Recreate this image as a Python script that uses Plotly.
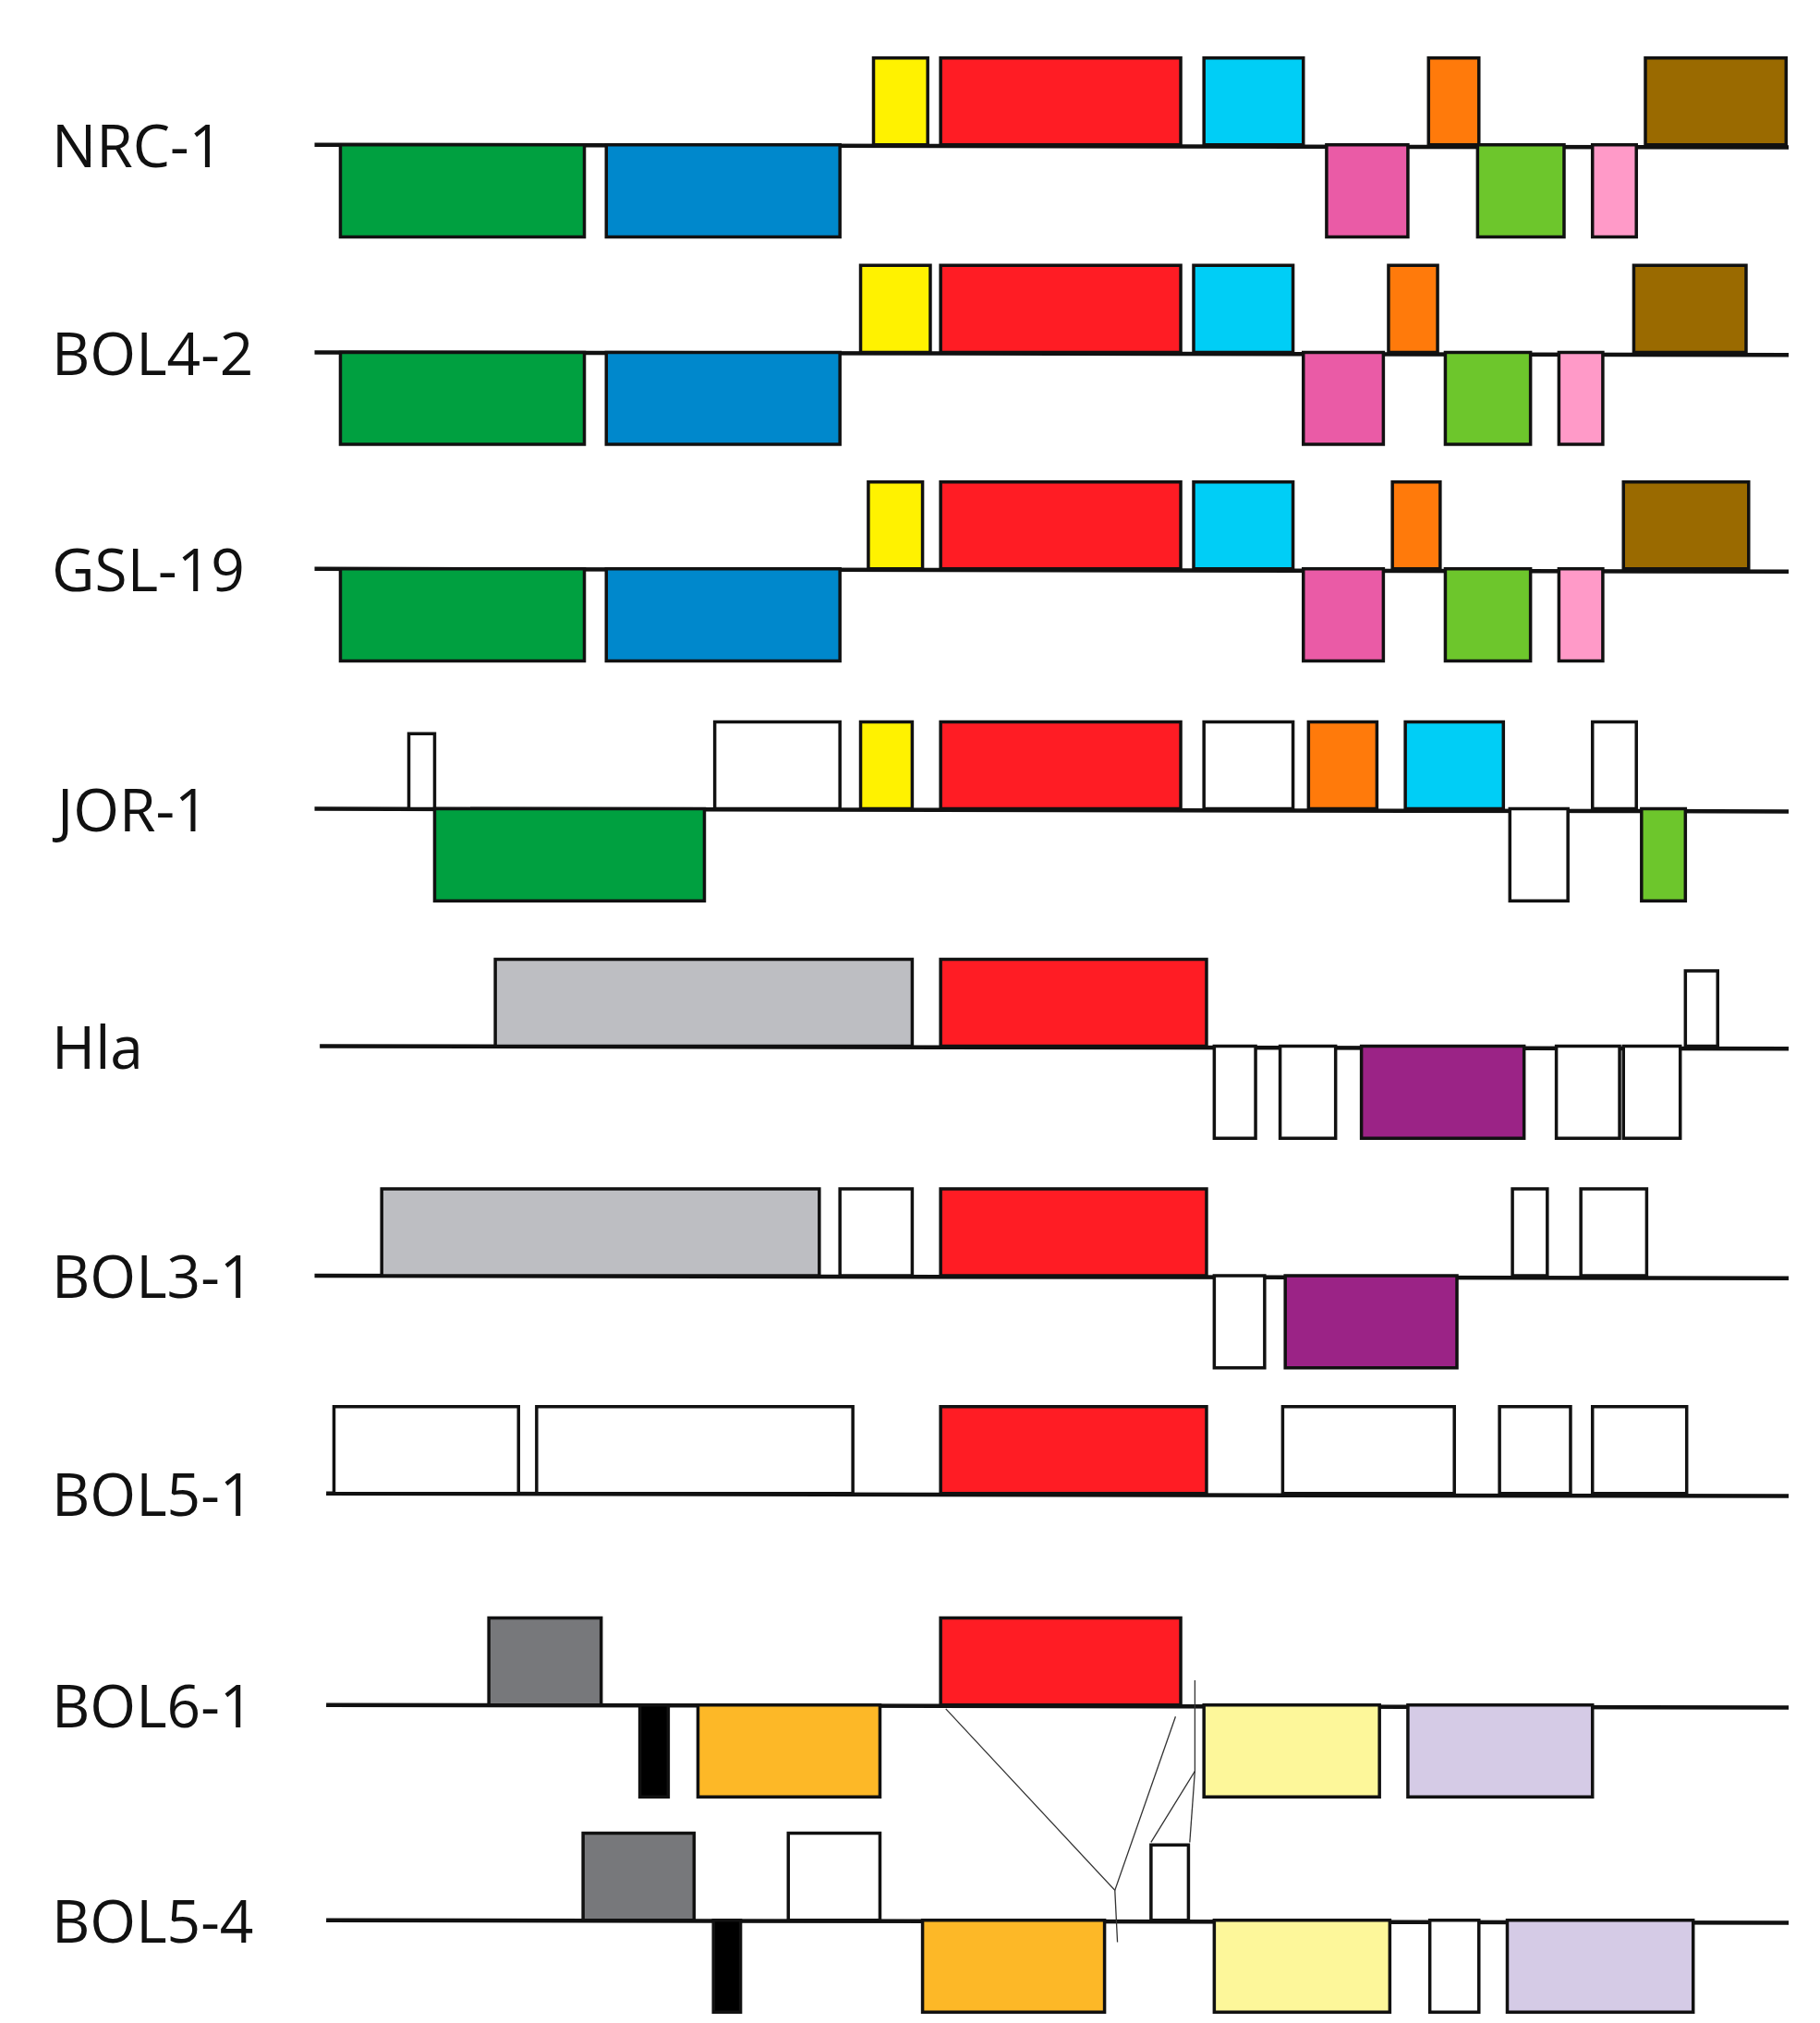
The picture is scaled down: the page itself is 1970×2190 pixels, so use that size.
import plotly.graph_objects as go

# track names and baseline positions (image units, y grows downward)
tracks = ["NRC-1", "BOL4-2", "GSL-19", "JOR-1", "Hla", "BOL3-1", "BOL5-1", "BOL6-1", "BOL5-4"]
baselines = [106, 266, 433, 618, 801, 978, 1146, 1309, 1475]

# genes per track: (start, end, strand, colour)
nrc1 = [(671, 713, 1, "#fff200"), (723, 909, 1, "#ff1c24"), (927, 1004, 1, "#00cef6"),
        (1101, 1140, 1, "#ff7a0b"), (1269, 1378, 1, "#9a6a00"),
        (258, 447, -1, "#00a040"), (464, 645, -1, "#0088cc"), (1022, 1085, -1, "#ea5ba6"),
        (1139, 1206, -1, "#6dc62c"), (1228, 1262, -1, "#ff9ac8")]
bol42 = [(661, 715, 1, "#fff200"), (723, 909, 1, "#ff1c24"), (919, 996, 1, "#00cef6"),
         (1070, 1108, 1, "#ff7a0b"), (1260, 1347, 1, "#9a6a00"),
         (258, 447, -1, "#00a040"), (464, 645, -1, "#0088cc"), (1004, 1066, -1, "#ea5ba6"),
         (1114, 1180, -1, "#6dc62c"), (1202, 1236, -1, "#ff9ac8")]
gsl19 = [(667, 709, 1, "#fff200"), (723, 909, 1, "#ff1c24"), (919, 996, 1, "#00cef6"),
         (1073, 1110, 1, "#ff7a0b"), (1252, 1349, 1, "#9a6a00"),
         (258, 447, -1, "#00a040"), (464, 645, -1, "#0088cc"), (1004, 1066, -1, "#ea5ba6"),
         (1114, 1180, -1, "#6dc62c"), (1202, 1236, -1, "#ff9ac8")]
jor1 = [(311, 331, 1, "white"), (548, 645, 1, "white"), (661, 701, 1, "#fff200"),
        (723, 909, 1, "#ff1c24"), (927, 996, 1, "white"), (1008, 1061, 1, "#ff7a0b"),
        (1083, 1159, 1, "#00cef6"), (1228, 1262, 1, "white"),
        (331, 540, -1, "#00a040"), (1164, 1209, -1, "white"), (1266, 1300, -1, "#6dc62c")]
hla = [(378, 701, 1, "#bdbec2"), (723, 929, 1, "#ff1c24"), (1300, 1325, 1, "white"),
       (935, 967, -1, "white"), (986, 1029, -1, "white"), (1049, 1175, -1, "#9b2386"),
       (1200, 1249, -1, "white"), (1252, 1296, -1, "white")]
bol31 = [(290, 629, 1, "#bdbec2"), (645, 701, 1, "white"), (723, 929, 1, "#ff1c24"),
         (1166, 1193, 1, "white"), (1219, 1270, 1, "white"),
         (935, 974, -1, "white"), (990, 1123, -1, "#9b2386")]
bol51 = [(253, 396, 1, "white"), (410, 655, 1, "white"), (723, 929, 1, "#ff1c24"),
         (988, 1121, 1, "white"), (1156, 1211, 1, "white"), (1228, 1301, 1, "white")]
bol61 = [(373, 460, 1, "#77787b"), (723, 909, 1, "#ff1c24"),
         (490, 512, -1, "black"), (535, 676, -1, "#fdb827"), (927, 1063, -1, "#fdf79a"),
         (1085, 1228, -1, "#d5cbe6")]
bol54 = [(446, 532, 1, "#77787b"), (605, 676, 1, "white"), (886, 915, 1, "white"),
         (547, 568, -1, "black"), (709, 850, -1, "#fdb827"), (935, 1071, -1, "#fdf79a"),
         (1102, 1140, -1, "white"), (1162, 1306, -1, "#d5cbe6")]
genes = [nrc1, bol42, gsl19, jor1, hla, bol31, bol51, bol61, bol54]

line_start = [238, 238, 238, 238, 242, 238, 247, 247, 247]
line_end = 1380
up_h, down_h = 67, 71

# thin connector lines between BOL6-1 and BOL5-4
conn_x = [[727, 858, 860], [858, 905], [920, 920, 886], [920, 916]]
conn_y = [[1312, 1452, 1492], [1452, 1318], [1290, 1360, 1415], [1360, 1415]]

fig = go.Figure()
shapes = []
for name, base, start, gl in zip(tracks, baselines, line_start, genes):
    for x0, x1, s, col in gl:
        if s > 0:
            y0, y1 = base - up_h, base
        else:
            y0, y1 = base, base + down_h
        if x1 - x0 < 30 and s > 0 and col == "white" and name in ("Hla", "BOL5-4", "JOR-1"):
            y0 = base - 58
        shapes.append(dict(type="rect", x0=x0, x1=x1, y0=y0, y1=y1, fillcolor=col,
                           line=dict(color="#111", width=3.5), layer="above"))
    shapes.append(dict(type="line", x0=start, x1=line_end, y0=base, y1=base + 2,
                       line=dict(color="#111", width=4.5), layer="below"))
    fig.add_annotation(x=33, y=base, text=name, showarrow=False, xanchor="left",
                       font=dict(family="Open Sans", size=64, color="#111"))

for cx, cy in zip(conn_x, conn_y):
    fig.add_trace(go.Scatter(x=cx, y=cy, mode="lines", line=dict(color="#333", width=1.3),
                             hoverinfo="skip", showlegend=False))

fig.update_layout(shapes=shapes, width=1970, height=2190, margin=dict(l=0, r=0, t=0, b=0),
                  plot_bgcolor="white", paper_bgcolor="white", showlegend=False)
fig.update_xaxes(range=[0, 1410], visible=False)
fig.update_yaxes(range=[1560, 0], visible=False)
fig.write_html("out.html")
